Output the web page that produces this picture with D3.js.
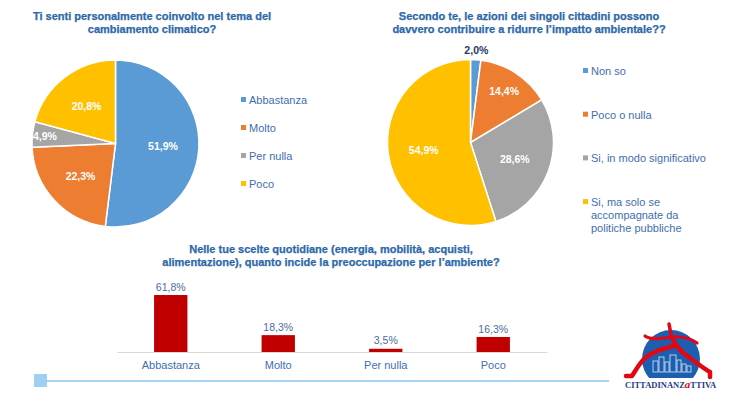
<!DOCTYPE html>
<html>
<head>
<meta charset="utf-8">
<script src="https://cdn.jsdelivr.net/npm/d3@7"></script>
<style>
  html, body { margin: 0; padding: 0; background: #fff; }
  svg { display: block; font-family: "Liberation Sans", Arial, sans-serif; }
</style>
</head>
<body>
<div id="container"></div>
<script>
// ---- data ----
const pie1Title = ['Ti senti personalmente coinvolto nel tema del', 'cambiamento climatico?'];
const pie1Categories = ['Abbastanza', 'Molto', 'Per nulla', 'Poco'];
const pie1Values = [51.9, 22.3, 4.9, 20.8];

const pie2Title = ['Secondo te, le azioni dei singoli cittadini possono', 'davvero contribuire a ridurre l\u2019impatto ambientale??'];
const pie2Categories = ['Non so', 'Poco o nulla', 'Si, in modo significativo', 'Si, ma solo se accompagnate da politiche pubbliche'];
const pie2LegendLines = [['Non so'], ['Poco o nulla'], ['Si, in modo significativo'], ['Si, ma solo se', 'accompagnate da', 'politiche pubbliche']];
const pie2Values = [2.0, 14.4, 28.6, 54.9];

const barTitle = ['Nelle tue scelte quotidiane (energia, mobilit\u00e0, acquisti,', 'alimentazione), quanto incide la preoccupazione per l\u2019ambiente?'];
const barCategories = ['Abbastanza', 'Molto', 'Per nulla', 'Poco'];
const barValues = [61.8, 18.3, 3.5, 16.3];

const sliceColors = ['#5B9BD5', '#ED7D31', '#A5A5A5', '#FFC000'];

const W = 739, H = 397;
const titleColor = '#2E6DB4';
const legendColor = '#3F6EAE';

const itLocale = d3.formatLocale({ decimal: ',', thousands: '.', grouping: [3], currency: ['', '\u20ac'] });
const pct = v => itLocale.format('.1f')(v) + '%';

const svg = d3.select('#container').append('svg')
  .attr('width', W).attr('height', H);

function drawTitle(lines, cx, y0) {
  svg.append('text')
    .attr('x', cx).attr('y', y0)
    .attr('text-anchor', 'middle')
    .style('font-size', '11px').style('font-weight', 'bold')
    .style('fill', titleColor)
    .style('stroke', '#24578f').style('stroke-width', 0.25)
    .selectAll('tspan').data(lines).enter().append('tspan')
      .attr('x', cx).attr('dy', (d, i) => i === 0 ? 0 : 13)
      .text(d => d);
}

function drawPie(values, cx, cy, r) {
  const g = svg.append('g').attr('transform', `translate(${cx},${cy})`);
  const pie = d3.pie().sort(null).value(d => d);
  const arcs = pie(values);
  const arc = d3.arc().innerRadius(0).outerRadius(r);

  g.selectAll('path').data(arcs).enter().append('path')
    .attr('d', arc)
    .attr('fill', (d, i) => sliceColors[i])
    .attr('stroke', '#fff').attr('stroke-width', 1.5);

  // label distance depends on slice size (small slices pushed outward)
  g.selectAll('text').data(arcs).enter().append('text')
    .attr('transform', d => {
      let f = 0.57;
      if (d.data < 3) f = 1.12;
      else if (d.data < 10) f = 0.85;
      else if (d.data < 20) f = 0.74;
      const a = (d.startAngle + d.endAngle) / 2;
      return `translate(${Math.sin(a) * r * f},${-Math.cos(a) * r * f})`;
    })
    .attr('text-anchor', 'middle')
    .attr('dy', '0.36em')
    .style('font-size', '10.5px').style('font-weight', 'bold')
    .style('fill', d => d.data < 3 ? '#1F3864' : '#fff')
    .text(d => pct(d.data));
}

function drawLegend(lines, x, y0, step) {
  const g = svg.append('g');
  const items = g.selectAll('g').data(lines).enter().append('g')
    .attr('transform', (d, i) => `translate(${x},${y0 + i * step})`);
  items.append('rect')
    .attr('x', 0).attr('y', -3).attr('width', 5).attr('height', 5)
    .attr('fill', (d, i) => sliceColors[i]);
  items.append('text')
    .attr('x', 8).attr('y', 0)
    .style('font-size', '11px').style('fill', legendColor)
    .selectAll('tspan').data(d => d).enter().append('tspan')
      .attr('x', 8).attr('dy', (d, i) => i === 0 ? '0.35em' : 13)
      .text(d => d);
}

// ---- pie 1 ----
drawTitle(pie1Title, 152, 20);
drawPie(pie1Values, 115.5, 143.5, 83.5);
drawLegend(pie1Categories.map(d => [d]), 241, 100, 28);

// ---- pie 2 ----
drawTitle(pie2Title, 529, 20);
drawPie(pie2Values, 470.5, 142.5, 83);
drawLegend(pie2LegendLines, 583, 71, 43.7);

// ---- bar chart ----
drawTitle(barTitle, 331, 253);

const x = d3.scaleBand().domain(barCategories).range([117, 547]).paddingInner(0.69).paddingOuter(0.345);
const y = d3.scaleLinear().domain([0, 70]).range([352, 352 - 70 * 0.922]);

svg.append('g').selectAll('rect').data(barValues).enter().append('rect')
  .attr('x', (d, i) => x(barCategories[i]))
  .attr('y', d => y(d))
  .attr('width', x.bandwidth())
  .attr('height', d => y(0) - y(d))
  .attr('fill', '#C00000');

svg.append('g').selectAll('text').data(barValues).enter().append('text')
  .attr('x', (d, i) => x(barCategories[i]) + x.bandwidth() / 2)
  .attr('y', d => y(d) - 8)
  .attr('dy', '0.35em')
  .attr('text-anchor', 'middle')
  .style('font-size', '10.5px').style('fill', '#4D6D9A')
  .text(d => pct(d));

const xAxis = svg.append('g')
  .attr('transform', `translate(0,${y(0)})`)
  .call(d3.axisBottom(x).tickSize(0).tickPadding(9));
xAxis.select('.domain').attr('stroke', '#D9D9D9').attr('stroke-width', 1);
xAxis.selectAll('text')
  .style('font-size', '11px').style('fill', legendColor)
  .style('font-family', '"Liberation Sans", Arial, sans-serif');

// ---- footer decoration ----
svg.append('line')
  .attr('x1', 47).attr('x2', 609).attr('y1', 381).attr('y2', 381)
  .attr('stroke', '#A6D3F4').attr('stroke-width', 2);
svg.append('rect')
  .attr('x', 34).attr('y', 374).attr('width', 13).attr('height', 13)
  .attr('fill', '#9DD0F3');

// logo
const logo = svg.append('g');
logo.append('clipPath').attr('id', 'logoClip')
  .append('rect').attr('x', 600).attr('y', 300).attr('width', 140).attr('height', 78);
logo.append('circle')
  .attr('cx', 671).attr('cy', 359).attr('r', 29)
  .attr('fill', '#1C5FB0').attr('clip-path', 'url(#logoClip)');
// buildings (thin white outlines)
const bld = logo.append('g').attr('fill', 'none').attr('stroke', '#DDE8F6').attr('stroke-width', 0.8);
[[653, 361, 5, 11], [659, 357, 5, 15], [665, 362, 4, 10], [670, 355, 6, 17], [677, 360, 4, 12], [682, 364, 4, 8], [687, 366, 4, 6]]
  .forEach(b => bld.append('rect').attr('x', b[0]).attr('y', b[1]).attr('width', b[2]).attr('height', b[3]));
// runner figure
const red = '#E30613';
const fig = logo.append('g').attr('fill', 'none').attr('stroke', red)
  .attr('stroke-linecap', 'round').attr('stroke-linejoin', 'round');
fig.append('path').attr('stroke-width', 3.5)
  .attr('d', 'M669,324 C670,330 671,334 672,338');
fig.append('path').attr('stroke-width', 3.2)
  .attr('d', 'M645,336 C650,340 660,339 672,337 C682,336 690,338 697,343');
fig.append('path').attr('stroke-width', 4.5)
  .attr('d', 'M672,338 C676,346 682,353 690,358 C697,363 703,368 710,372 L710,377');
fig.append('path').attr('stroke-width', 4.5)
  .attr('d', 'M674,346 C664,348 652,352 644,359 C639,364 636,370 632,376 L626,376');
const logoText = logo.append('text')
  .attr('x', 625).attr('y', 388)
  .style('font-family', '"Liberation Serif", "DejaVu Serif", serif')
  .style('font-size', '8.5px').style('font-weight', 'bold').style('fill', '#1F3C88');
logoText.append('tspan').text('CITTADINANZ');
logoText.append('tspan').style('fill', red).style('font-style', 'italic').style('font-size', '11px').text('a');
logoText.append('tspan').text('TTIVA');
</script>
</body>
</html>
